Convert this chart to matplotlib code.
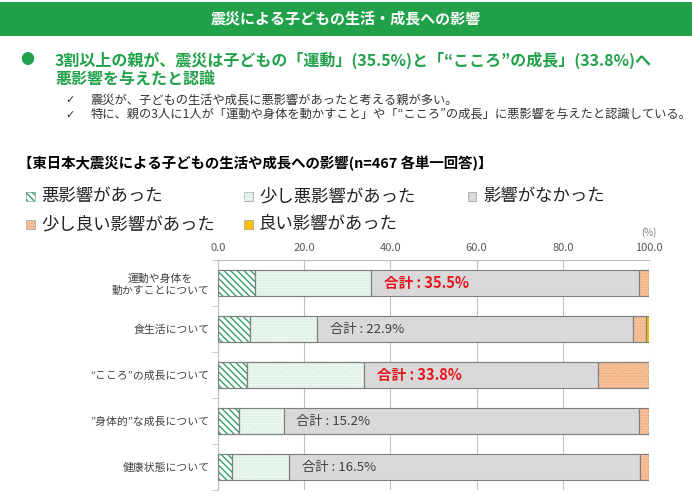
import matplotlib
matplotlib.use("Agg")
import matplotlib.pyplot as plt
from matplotlib.patches import Rectangle
import numpy as np

plt.rcParams['font.family'] = ['Noto Sans CJK JP', 'DejaVu Sans']

categories = ["運動や身体を\n動かすことについて", "食生活について", "“こころ”の成長について",
              "”身体的”な成長について", "健康状態について"]
series_names = ["悪影響があった", "少し悪影響があった", "影響がなかった", "少し良い影響があった", "良い影響があった"]
bad = [8.7, 7.4, 6.7, 4.8, 3.3]
slightly_bad = [26.8, 15.5, 27.1, 10.4, 13.2]
none = [62.2, 73.5, 54.3, 82.5, 81.3]
slightly_good = [2.3, 2.9, 11.9, 2.3, 2.2]
good = [0.0, 0.7, 0.0, 0.0, 0.0]
totals = ["35.5", "22.9", "33.8", "15.2", "16.5"]
highlight = [True, False, True, False, False]
xticks = [0, 20, 40, 60, 80, 100]

W, H = 692, 500
fig = plt.figure(figsize=(W / 100, H / 100), dpi=100)
def fx(x): return x / W
def fy(y): return 1 - y / H

GREEN = "#22a14b"
plt.rcParams['hatch.linewidth'] = 1.0

# header banner
fig.patches.append(Rectangle((0, fy(36)), 1, (36 - 2) / H, transform=fig.transFigure,
                             facecolor=GREEN, edgecolor='none'))
fig.text(fx(346), fy(19), "震災による子どもの生活・成長への影響", color="white",
         fontsize=10.8, fontweight="bold", ha="center", va="center")

# bullet text
fig.text(fx(27), fy(60), "●", color=GREEN, fontsize=10, ha="center", va="center")
fig.text(fx(55), fy(60), "3割以上の親が、震災は子どもの「運動」(35.5%)と「“こころ”の成長」(33.8%)へ",
         color=GREEN, fontsize=11.5, fontweight="bold", ha="left", va="center")
fig.text(fx(55), fy(79), "悪影響を与えたと認識", color=GREEN, fontsize=11.5,
         fontweight="bold", ha="left", va="center")
for yy, s in [(100, "震災が、子どもの生活や成長に悪影響があったと考える親が多い。"),
              (115, "特に、親の3人に1人が「運動や身体を動かすこと」や「“こころ”の成長」に悪影響を与えたと認識している。")]:
    fig.text(fx(70), fy(yy), "✓", color="#333333", fontsize=8, ha="center", va="center",
             family=['DejaVu Sans'])
    fig.text(fx(91), fy(yy), s, color="#333333", fontsize=8.8, ha="left", va="center")

fig.text(fx(18), fy(163), "【東日本大震災による子どもの生活や成長への影響(n=467 各単一回答)】",
         color="black", fontsize=10.4, fontweight="bold", ha="left", va="center")

# styles
styles = [
    dict(fc="white", hc="#34a266", hatch="\\\\\\\\\\"),
    dict(fc="#f1f9f4", hc="#d2eadb", hatch="......"),
    dict(fc="#d9d9d9", hc=None, hatch=None),
    dict(fc="#f4b183", hc="#f9d2b4", hatch="......"),
    dict(fc="#ffc000", hc=None, hatch=None),
]

# legend
leg_pos = [(30, 196), (248, 196), (472, 196), (30, 224), (248, 224)]
for (lx, ly), name, st in zip(leg_pos, series_names, styles):
    r = Rectangle((fx(lx - 4.5), fy(ly + 4.5)), 9 / W, 9 / H, transform=fig.transFigure,
                  facecolor=st["fc"], edgecolor="#a6a6a6", linewidth=0.6)
    fig.patches.append(r)
    if st["hatch"]:
        fig.patches.append(Rectangle((fx(lx - 4.5), fy(ly + 4.5)), 9 / W, 9 / H,
                                     transform=fig.transFigure, fill=False,
                                     edgecolor=st["hc"], linewidth=0, hatch=st["hatch"]))
    fig.text(fx(lx + 11), fy(ly), name, fontsize=12.5, color="#222222", ha="left", va="center")

fig.text(fx(649), fy(233), "(%)", fontsize=7, color="#7f7f7f", ha="center", va="center")

# axes
ax = fig.add_axes([fx(218), fy(490), (649 - 218) / W, (490 - 260) / H])
y = np.arange(len(categories))
data = [bad, slightly_bad, none, slightly_good, good]
left = np.zeros(len(categories))
for vals, st in zip(data, styles):
    vals = np.array(vals)
    ax.barh(y, vals, left=left, height=0.56, color=st["fc"], edgecolor="#7f7f7f",
            linewidth=0.8, zorder=3)
    if st["hatch"]:
        ax.barh(y, vals, left=left, height=0.56, fill=False, edgecolor=st["hc"],
                linewidth=0, hatch=st["hatch"], zorder=4)
        ax.barh(y, vals, left=left, height=0.56, fill=False, edgecolor="#7f7f7f",
                linewidth=0.8, zorder=5)
    left += vals

for i in range(len(categories)):
    t = bad[i] + slightly_bad[i]
    if highlight[i]:
        ax.text(t + 3, y[i], f"合計 : {totals[i]}%", color="#e8141c", fontsize=10.5,
                fontweight="bold", ha="left", va="center", zorder=6)
    else:
        ax.text(t + 3, y[i], f"合計 : {totals[i]}%", color="#404040", fontsize=9.5,
                ha="left", va="center", zorder=6)

ax.set_xlim(0, 100)
ax.set_ylim(len(categories) - 0.5, -0.5)
ax.xaxis.tick_top()
ax.set_xticks(xticks)
ax.set_xticklabels([f"{v:.1f}" for v in xticks], fontsize=8, color="#595959")
ax.tick_params(axis='x', length=0, pad=5)
ax.grid(axis='x', color="#bfbfbf", linewidth=0.8, zorder=0)
ax.set_yticks(y)
ax.set_yticklabels(categories, fontsize=7.8, color="#404040", multialignment="center")
ax.tick_params(axis='y', length=0, pad=6)
ax.set_yticks(np.arange(-0.5, len(categories), 1.0), minor=True)
ax.tick_params(axis='y', which='minor', length=4, color="#bfbfbf")
for s in ["right", "bottom"]:
    ax.spines[s].set_visible(False)
ax.spines["top"].set_color("#bfbfbf")
ax.spines["left"].set_color("#bfbfbf")

fig.savefig("out.png", dpi=100)
